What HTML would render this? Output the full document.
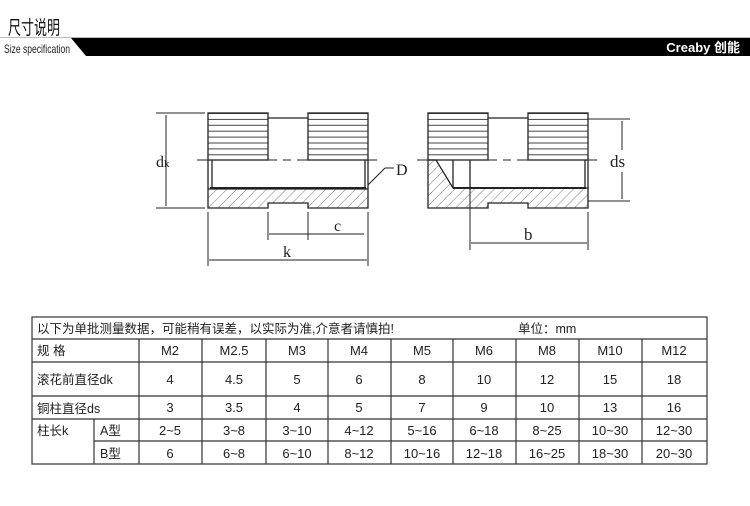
<!DOCTYPE html>
<html><head><meta charset="utf-8"><style>
body{margin:0;background:#fff;width:750px;height:506px;overflow:hidden}
svg{display:block}
text{font-family:"Liberation Sans","Noto Sans CJK SC",sans-serif}
.s{font-family:"Liberation Serif","Noto Serif CJK SC",serif}
</style></head><body>
<svg width="750" height="506" viewBox="0 0 750 506" xmlns="http://www.w3.org/2000/svg">
<defs>
<pattern id="h" width="7" height="7" patternUnits="userSpaceOnUse" patternTransform="rotate(45)">
<line x1="0" y1="0" x2="0" y2="7" stroke="#555" stroke-width="0.8"/>
</pattern>
<pattern id="k" width="10" height="5.9" patternUnits="userSpaceOnUse" y="113">
<line x1="0" y1="0.5" x2="10" y2="0.5" stroke="#444" stroke-width="1"/>
</pattern>
</defs>
<!-- header -->
<text x="8" y="34" font-size="19" fill="#111" textLength="52" lengthAdjust="spacingAndGlyphs">尺寸说明</text>
<line x1="0" y1="37.5" x2="750" y2="37.5" stroke="#bbb" stroke-width="1"/>
<polygon points="71,38 750,38 750,56 86,56" fill="#000"/>
<text x="4" y="53" font-size="12" fill="#222" textLength="66" lengthAdjust="spacingAndGlyphs">Size specification</text>
<text x="740" y="52" font-size="13" font-weight="bold" fill="#fff" text-anchor="end">Creaby 创能</text>

<!-- left drawing -->
<g stroke="#222" fill="none" stroke-width="1.3">
<rect x="208" y="113" width="60" height="47" fill="url(#k)"/>
<rect x="308" y="113" width="60" height="47" fill="url(#k)"/>
<line x1="268" y1="118" x2="308" y2="118"/>
<path d="M208,189 H368 V208 H308 V203 H268 V208 H208 Z" fill="url(#h)"/>
<line x1="208" y1="160" x2="208" y2="189"/>
<line x1="368" y1="160" x2="368" y2="189"/>
<line x1="212" y1="160" x2="212" y2="187"/>
<line x1="365" y1="160" x2="365" y2="187"/>
<line x1="210" y1="188" x2="366" y2="188" stroke-width="2"/>
<line x1="197" y1="160" x2="380" y2="160" stroke-dasharray="30,6,8,6" stroke-width="1"/>
<line x1="156" y1="113" x2="205" y2="113" stroke-width="1"/>
<line x1="156" y1="208" x2="205" y2="208" stroke-width="1"/>
<line x1="166" y1="115" x2="166" y2="206" stroke-width="1"/>
<line x1="368" y1="185" x2="385" y2="168" stroke-width="1"/>
<line x1="385" y1="168" x2="394" y2="168" stroke-width="1"/>
<line x1="268" y1="212" x2="268" y2="240" stroke-width="1"/>
<line x1="308" y1="212" x2="308" y2="240" stroke-width="1"/>
<line x1="208" y1="212" x2="208" y2="266" stroke-width="1"/>
<line x1="368" y1="212" x2="368" y2="266" stroke-width="1"/>
<line x1="269" y1="234" x2="364" y2="234" stroke-width="1"/>
<line x1="209" y1="260" x2="367" y2="260" stroke-width="1"/>
</g>
<text class="s" x="156" y="167" font-size="16" fill="#222">d<tspan font-size="11">k</tspan></text>
<text class="s" x="396" y="175" font-size="16" fill="#222">D</text>
<text class="s" x="334" y="231" font-size="16" fill="#222">c</text>
<text class="s" x="283" y="257" font-size="16" fill="#222">k</text>

<!-- right drawing -->
<g stroke="#222" fill="none" stroke-width="1.3">
<rect x="428" y="113" width="60" height="47" fill="url(#k)"/>
<rect x="528" y="113" width="60" height="47" fill="url(#k)"/>
<line x1="488" y1="118" x2="528" y2="118"/>
<path d="M428,160 H436 L453,188 H588 V208 H528 V203 H488 V208 H428 Z" fill="url(#h)"/>
<line x1="453" y1="160" x2="453" y2="188"/>
<line x1="470" y1="160" x2="470" y2="190"/>
<line x1="588" y1="160" x2="588" y2="189"/>
<line x1="585" y1="160" x2="585" y2="187"/>
<line x1="453" y1="188" x2="586" y2="188" stroke-width="2"/>
<line x1="417" y1="160" x2="600" y2="160" stroke-dasharray="30,6,8,6" stroke-width="1"/>
<line x1="588" y1="119" x2="630" y2="119" stroke-width="1"/>
<line x1="588" y1="201" x2="630" y2="201" stroke-width="1"/>
<line x1="622" y1="121" x2="622" y2="199" stroke-width="1"/>
<line x1="470" y1="190" x2="470" y2="250" stroke-width="1"/>
<line x1="588" y1="212" x2="588" y2="250" stroke-width="1"/>
<line x1="471" y1="243" x2="587" y2="243" stroke-width="1"/>
</g>
<rect x="606" y="150" width="32" height="22" fill="#fff"/>
<text class="s" x="610" y="167" font-size="17" fill="#222">ds</text>
<text class="s" x="524" y="240" font-size="17" fill="#222">b</text>

<!-- table -->
<g stroke="#333" stroke-width="1.2" fill="none">
<rect x="32" y="317" width="675" height="147"/>
<line x1="32" y1="339" x2="707" y2="339"/>
<line x1="32" y1="362" x2="707" y2="362"/>
<line x1="32" y1="396" x2="707" y2="396"/>
<line x1="32" y1="419" x2="707" y2="419"/>
<line x1="94" y1="441" x2="707" y2="441"/>
<line x1="94" y1="419" x2="94" y2="464"/>
<line x1="139" y1="339" x2="139" y2="464"/>
<line x1="202" y1="339" x2="202" y2="464"/>
<line x1="266" y1="339" x2="266" y2="464"/>
<line x1="328" y1="339" x2="328" y2="464"/>
<line x1="391" y1="339" x2="391" y2="464"/>
<line x1="453" y1="339" x2="453" y2="464"/>
<line x1="516" y1="339" x2="516" y2="464"/>
<line x1="579" y1="339" x2="579" y2="464"/>
<line x1="642" y1="339" x2="642" y2="464"/>
</g>
<g font-size="12.5" fill="#222">
<text x="37" y="333">以下为单批测量数据，可能稍有误差，以实际为准,介意者请慎拍!</text>
<text x="518" y="333">单位：mm</text>
<text x="37" y="355">规 格</text>
<text x="37" y="384">滚花前直径dk</text>
<text x="37" y="413">铜柱直径ds</text>
<text x="37" y="435">柱长k</text>
<text x="100" y="435">A型</text>
<text x="100" y="458">B型</text>
</g>
<g font-size="13" fill="#222" text-anchor="middle">
<text x="170" y="355">M2</text><text x="234" y="355">M2.5</text><text x="297" y="355">M3</text><text x="359" y="355">M4</text><text x="422" y="355">M5</text><text x="484" y="355">M6</text><text x="547" y="355">M8</text><text x="610" y="355">M10</text><text x="674" y="355">M12</text>
<text x="170" y="384">4</text><text x="234" y="384">4.5</text><text x="297" y="384">5</text><text x="359" y="384">6</text><text x="422" y="384">8</text><text x="484" y="384">10</text><text x="547" y="384">12</text><text x="610" y="384">15</text><text x="674" y="384">18</text>
<text x="170" y="412">3</text><text x="234" y="412">3.5</text><text x="297" y="412">4</text><text x="359" y="412">5</text><text x="422" y="412">7</text><text x="484" y="412">9</text><text x="547" y="412">10</text><text x="610" y="412">13</text><text x="674" y="412">16</text>
<text x="170" y="435">2~5</text><text x="234" y="435">3~8</text><text x="297" y="435">3~10</text><text x="359" y="435">4~12</text><text x="422" y="435">5~16</text><text x="484" y="435">6~18</text><text x="547" y="435">8~25</text><text x="610" y="435">10~30</text><text x="674" y="435">12~30</text>
<text x="170" y="458">6</text><text x="234" y="458">6~8</text><text x="297" y="458">6~10</text><text x="359" y="458">8~12</text><text x="422" y="458">10~16</text><text x="484" y="458">12~18</text><text x="547" y="458">16~25</text><text x="610" y="458">18~30</text><text x="674" y="458">20~30</text>
</g>
</svg>
</body></html>
